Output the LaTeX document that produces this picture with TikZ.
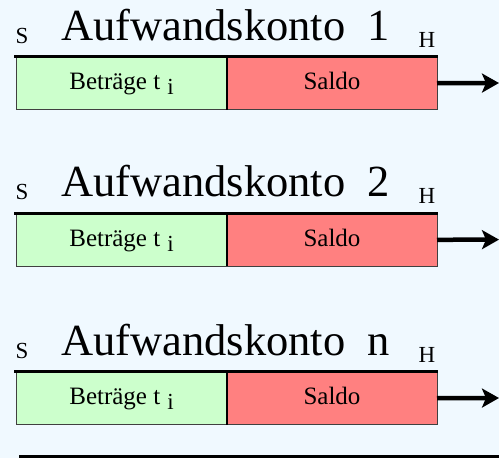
\documentclass[tikz,border=0pt]{standalone}
\usepackage{fontspec}
\setmainfont{Liberation Serif}
\usetikzlibrary{arrows.meta}
\definecolor{bg}{HTML}{F0F9FF}
\definecolor{gbox}{HTML}{CCFFCC}
\definecolor{rbox}{HTML}{FF8080}
\definecolor{edgegray}{HTML}{404040}
\begin{document}
\begin{tikzpicture}[x=1pt,y=-1pt,
  cell/.style={draw=edgegray, line width=0.9pt, anchor=north west, inner sep=0pt, outer sep=0pt,
    text height=33pt, text depth=20pt, align=center, font=\fontsize{25}{25}\selectfont},
  title/.style={anchor=base west, inner sep=0pt, font=\fontsize{44.5}{44.5}\selectfont},
  numlabel/.style={anchor=base, inner sep=0pt, font=\fontsize{44.5}{44.5}\selectfont},
  sidelabel/.style={anchor=base west, inner sep=0pt, font=\fontsize{23}{23}\selectfont},
  topline/.style={line width=3.3pt},
  divider/.style={line width=2.4pt},
  outarrow/.style={line width=4.5pt, -{Stealth[length=17pt,width=19pt,inset=4pt]}}]
\fill[bg] (0,0) rectangle (499,458);
\useasboundingbox (0,0) rectangle (499,458);
\foreach \k/\T/\num in {1/56.7/1, 2/213.3/2, 3/371.7/n}{
  \node[cell, fill=gbox, minimum width=211pt] (g\k) at (16,\T) {Beträge t\hspace{7pt}\raisebox{-5pt}{\fontsize{23}{23}\selectfont i}};
  \node[cell, fill=rbox, minimum width=210pt] (r\k) at (227,\T) {Saldo};
  \draw[divider] (g\k.north east) -- (g\k.south east);
  \draw[topline] ([xshift=-2pt]g\k.north west) -- ([xshift=1pt]r\k.north east);
  \coordinate (e\k) at (499,\T+26.3);
  \draw[outarrow] (r\k.east) -- (e\k);
  \node[title] (t\k) at (61,\T-16.4) {Aufwandskonto};
  \node[numlabel] (n\k) at (379,\T-16.4) {\num};
  \node[sidelabel] (s\k) at (15.5,\T-13.4) {S};
  \node[sidelabel] (h\k) at (418.3,\T-9.4) {H};
}
\coordinate (bl) at (19,456.7);
\coordinate (br) at (499,456.7);
\draw[line width=3pt] (bl) -- (br);
\end{tikzpicture}
\end{document}
